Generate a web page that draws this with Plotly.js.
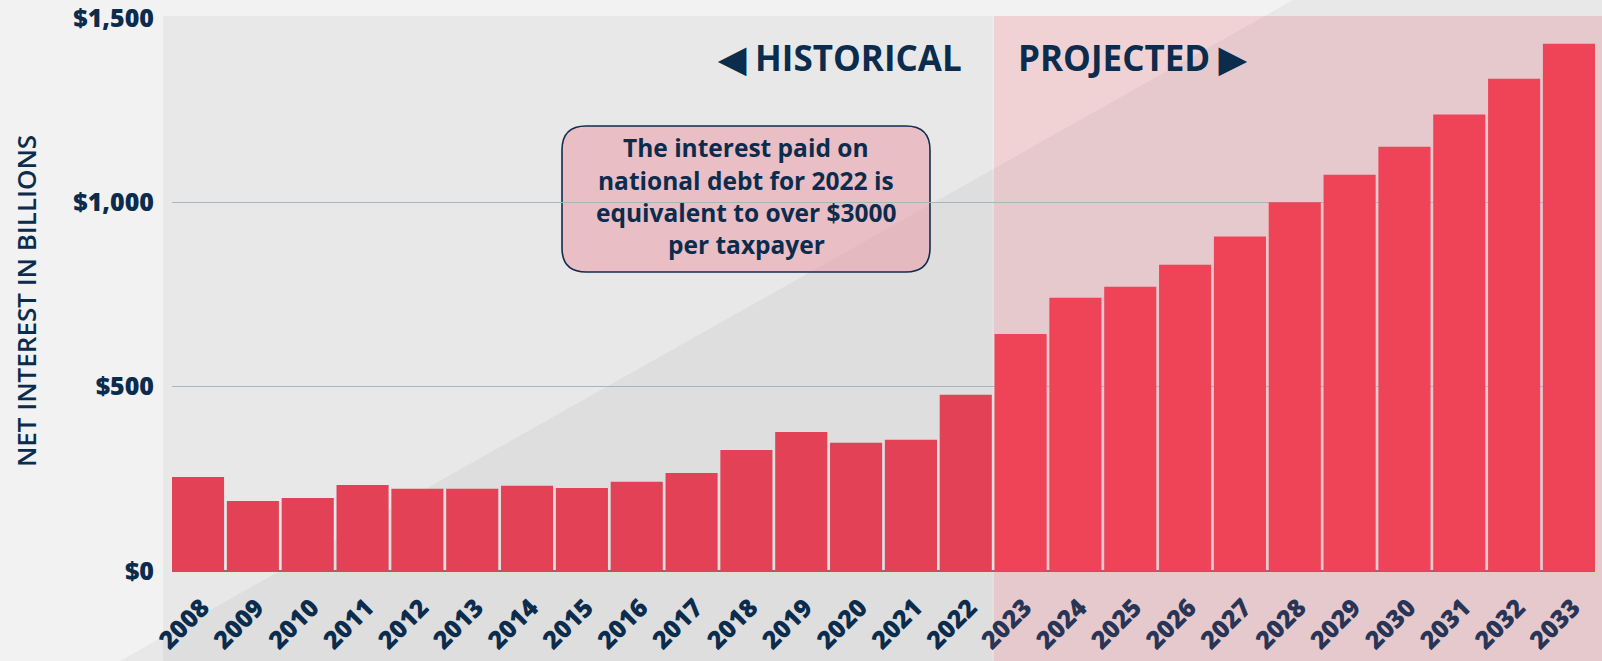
<!DOCTYPE html>
<html>
<head>
<meta charset="utf-8">
<script src="https://cdn.plot.ly/plotly-3.0.1.min.js"></script>
<style>html,body{margin:0;padding:0;background:#f2f2f2;}#chart{width:1602px;height:661px;}</style>
</head>
<body>
<div id="chart"></div>
<script>
// ---- data ----
const years = ['2008','2009','2010','2011','2012','2013','2014','2015','2016','2017','2018','2019','2020',
               '2021','2022','2023','2024','2025','2026','2027','2028','2029','2030','2031','2032','2033'];
const netInterest = [255, 190, 198, 233, 223, 223, 231, 225, 242, 266, 328, 377, 348,
                     356, 478, 643, 741, 771, 831, 907, 1000, 1075, 1151, 1238, 1335, 1430];
const firstProjectedYear = '2023';
const yTickVals = [0, 500, 1000, 1500];
const yTickText = ['$0', '$500', '$1,000', '$1,500'];
const boxLines = ['The interest paid on', 'national debt for 2022 is', 'equivalent to over $3000', 'per taxpayer'];
const yTitle = 'NET INTEREST IN BILLIONS';
const histLabel = '◀ HISTORICAL';
const projLabel = 'PROJECTED ▶';

// ---- styling ----
const NAVY = '#0b2c4d';
const FONT = 'Open Sans, sans-serif';
const W = 1602, H = 661;
const M = {l: 172, r: 7, t: 18, b: 90};
const PW = W - M.l - M.r, PH = H - M.t - M.b;
const XR = [-0.475, years.length - 1 + 0.475];
const projIdx = years.indexOf(firstProjectedYear);

// pixel -> paper helpers (for decorations only)
const px = x => (x - M.l) / PW;
const py = y => (H - M.b - y) / PH;
const dividePaper = (projIdx - 0.5 - XR[0]) / (XR[1] - XR[0]);

const barColors = years.map((y, i) => i >= projIdx ? '#ef4358' : '#e34155');
const tickText = years.map((y, i) => i >= projIdx ? '<span style="color:#283556">' + y + '</span>' : y);

const trace = {
  type: 'bar', x: years, y: netInterest,
  marker: {color: barColors, line: {width: 0}},
  hoverinfo: 'x+y'
};

// rounded box path
function roundRect(x0, y0, x1, y1, r) {
  const rx = r / PW, ry = r / PH;
  const L = px(x0), R = px(x1), T = py(y0), B = py(y1);
  return `M ${L + rx},${T} L ${R - rx},${T} Q ${R},${T} ${R},${T - ry} L ${R},${B + ry} Q ${R},${B} ${R - rx},${B} ` +
         `L ${L + rx},${B} Q ${L},${B} ${L},${B + ry} L ${L},${T - ry} Q ${L},${T} ${L + rx},${T} Z`;
}

const shapes = [
  // plot background
  {type: 'rect', xref: 'paper', yref: 'paper', x0: px(163), x1: px(W + 5), y0: py(H + 5), y1: py(16),
   fillcolor: '#e8e8e8', line: {width: 0}, layer: 'below'},
  // projected background
  {type: 'rect', xref: 'paper', yref: 'paper', x0: dividePaper, x1: px(W + 5), y0: py(H + 5), y1: py(16),
   fillcolor: '#f0d2d5', line: {width: 0}, layer: 'below'},
  // thin divider
  {type: 'line', xref: 'paper', yref: 'paper', x0: dividePaper, x1: dividePaper, y0: py(H + 5), y1: py(16),
   line: {color: 'rgba(255,255,255,0.6)', width: 1}, layer: 'below'},
  // diagonal shade
  {type: 'path', xref: 'paper', yref: 'paper', layer: 'below', line: {width: 0}, fillcolor: 'rgba(0,0,0,0.04)',
   path: `M ${px(1293)},${py(0)} L ${px(W + 10)},${py(0)} L ${px(W + 10)},${py(H + 5)} L ${px(114 - 3)},${py(H + 5)} Z`},
  // callout box
  {type: 'path', xref: 'paper', yref: 'paper', layer: 'below', path: roundRect(562, 126, 930, 272, 24),
   fillcolor: 'rgba(236,140,156,0.45)', line: {color: '#0f2d4c', width: 1.6}}
];

const boxY = [147, 180, 213, 244];
const annotations = boxLines.map((t, i) => ({
  xref: 'paper', yref: 'paper', x: px(746), y: py(boxY[i]), xanchor: 'center', yanchor: 'middle',
  text: t, showarrow: false, font: {family: FONT, size: 24.5, color: NAVY, weight: 700}
}));
annotations.push(
  {xref: 'paper', yref: 'paper', x: px(964), y: py(58), xanchor: 'right', yanchor: 'middle', showarrow: false,
   text: histLabel, font: {family: FONT, size: 35, color: NAVY, weight: 700}},
  {xref: 'paper', yref: 'paper', x: px(1016), y: py(58), xanchor: 'left', yanchor: 'middle', showarrow: false,
   text: projLabel, font: {family: FONT, size: 35, color: NAVY, weight: 700}},
  {xref: 'paper', yref: 'paper', x: px(26), y: py(301), xanchor: 'center', yanchor: 'middle', showarrow: false,
   textangle: -90, text: yTitle, font: {family: FONT, size: 26, color: NAVY, weight: 600}}
);

const layout = {
  width: W, height: H, margin: {l: M.l, r: M.r, t: M.t, b: M.b, pad: 0},
  paper_bgcolor: '#f2f2f2', plot_bgcolor: 'rgba(0,0,0,0)',
  bargap: 0.05, showlegend: false,
  font: {family: FONT, color: NAVY},
  xaxis: {type: 'category', range: XR, tickmode: 'array', tickvals: years, ticktext: tickText,
          tickangle: -45, showgrid: false, showline: false, zeroline: false, ticks: '',
          ticklabelstandoff: 16, ticklabelshift: 4,
          tickfont: {family: FONT, size: 25, color: NAVY, weight: 800}, fixedrange: true},
  yaxis: {range: [0, 1500], tickmode: 'array', tickvals: yTickVals, ticktext: yTickText,
          showgrid: true, gridcolor: '#a9b4bf', gridwidth: 1.5,
          zeroline: true, zerolinecolor: '#66788a', zerolinewidth: 2, showline: false, ticks: '',
          ticklabeloverflow: 'allow',
          ticklabelstandoff: 17, tickfont: {family: FONT, size: 25, color: NAVY, weight: 800}, fixedrange: true},
  shapes: shapes, annotations: annotations
};

Plotly.newPlot('chart', [trace], layout, {displayModeBar: false, staticPlot: true});
</script>
</body>
</html>
